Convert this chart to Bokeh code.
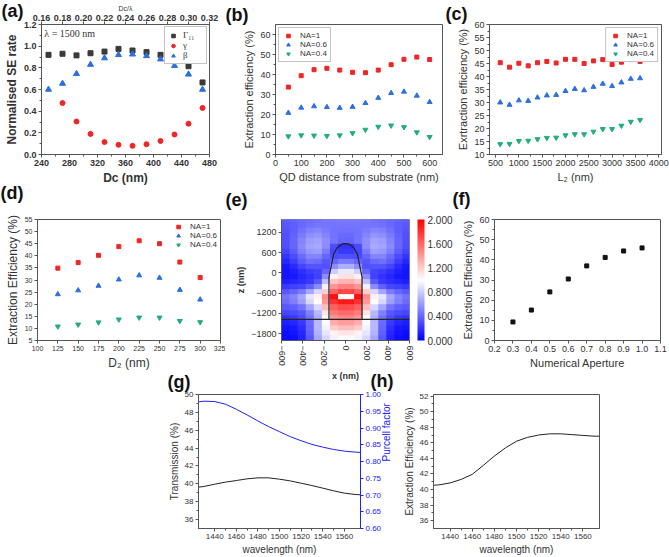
import math
import numpy as np
from bokeh.plotting import figure
from bokeh.layouts import column, row
from bokeh.models import (Range1d, LinearAxis, Label, LinearColorMapper, ColorBar,
                          FixedTicker, PrintfTickFormatter, Span, Spacer)
from bokeh.core.properties import value
from bokeh.embed import file_html
from bokeh.resources import INLINE

FONT = "Liberation Sans"
SERIF = "Liberation Serif"
INK = "#333333"
FRAME = "#555555"
RED = "#ee2626"
BLUE = "#2d6fe0"
GREEN = "#22ad78"
PBLUE = "#2020ff"

nan = float("nan")

# ---------------- (a) normalised spontaneous-emission rates vs pillar diameter
a_dc = [250, 270, 290, 310, 330, 350, 370, 390, 410, 430, 450, 470]
a_gamma11 = [0.92, 0.93, 0.915, 0.935, 0.95, 0.975, 0.96, 0.945, 0.92, 0.875, 0.815, 0.665]
a_gamma = [nan, 0.475, 0.305, 0.19, 0.115, 0.09, 0.08, 0.095, 0.125, 0.185, 0.285, 0.43]
a_beta = [0.60, 0.655, 0.745, 0.83, 0.89, 0.92, 0.925, 0.91, 0.88, 0.82, 0.74, 0.60]
a_wavelength = 1500

# ---------------- (b) extraction efficiency vs QD distance from substrate
b_dist = [50, 100, 150, 200, 250, 300, 350, 400, 450, 500, 550, 600]
b_na1 = [33.7, 39.4, 42.4, 43.1, 42.2, 41.1, 40.9, 42.2, 44.9, 47.6, 48.7, 47.5]
b_na06 = [20.8, 23.4, 24.1, 23.7, 23.3, 23.8, 25.7, 28.3, 30.7, 31.4, 29.4, 26.2]
b_na04 = [9.1, 9.6, 9.5, 9.3, 9.6, 10.7, 12.4, 13.9, 14.5, 13.7, 11.1, 8.8]

# ---------------- (c) extraction efficiency vs L2
c_l2 = [600, 800, 1000, 1200, 1400, 1600, 1800, 2000, 2200, 2400, 2600, 2800, 3000, 3200, 3400, 3600]
c_na1 = [45.3, 43.6, 45.1, 44.1, 45.3, 45.8, 45.2, 46.6, 46.6, 45.0, 46.0, 46.5, 44.6, 45.5, 46.5, 45.8]
c_na06 = [30.0, 29.1, 30.8, 30.6, 31.9, 32.7, 32.9, 34.4, 35.2, 34.7, 36.0, 37.2, 36.3, 37.7, 39.1, 39.3]
c_na04 = [14.0, 14.1, 15.2, 15.3, 15.9, 16.4, 16.5, 17.4, 17.8, 17.8, 18.8, 19.8, 19.8, 21.1, 22.6, 23.3]

# ---------------- (d) extraction efficiency vs D2
d_d2 = [125, 150, 175, 200, 225, 250, 275, 300]
d_na1 = [34.9, 37.2, 40.2, 43.8, 46.2, 45.0, 37.4, 31.0]
d_na06 = [24.1, 25.7, 27.6, 30.2, 31.9, 30.9, 25.9, 21.9]
d_na04 = [10.8, 11.6, 12.5, 13.7, 14.5, 14.5, 13.1, 12.6]

# ---------------- (e) field intensity map (half grid, x >= 0; mirrored about x = 0)
e_half_x = [37, 112, 187, 262, 337, 412, 487, 562]
e_rows_z = [1525, 1375, 1225, 1075, 925, 775, 625, 475, 325, 175, 25, -125, -275,
            -425, -575, -725, -875, -1025, -1175, -1325, -1475, -1625, -1775, -1925]
e_half_field = [
    [0.48, 0.48, 0.47, 0.45, 0.43, 0.41, 0.39, 0.37],
    [0.46, 0.46, 0.46, 0.46, 0.44, 0.41, 0.37, 0.35],
    [0.44, 0.45, 0.48, 0.52, 0.50, 0.44, 0.37, 0.33],
    [0.42, 0.45, 0.52, 0.58, 0.56, 0.48, 0.39, 0.32],
    [0.40, 0.46, 0.56, 0.64, 0.62, 0.52, 0.40, 0.32],
    [0.20, 0.30, 0.55, 0.66, 0.64, 0.54, 0.40, 0.31],
    [0.22, 0.28, 0.48, 0.62, 0.60, 0.50, 0.36, 0.27],
    [0.32, 0.30, 0.40, 0.52, 0.52, 0.42, 0.30, 0.21],
    [0.48, 0.40, 0.34, 0.42, 0.44, 0.36, 0.24, 0.15],
    [0.68, 0.55, 0.32, 0.33, 0.33, 0.27, 0.17, 0.10],
    [0.92, 0.80, 0.40, 0.27, 0.24, 0.18, 0.12, 0.08],
    [1.12, 1.05, 0.55, 0.25, 0.20, 0.15, 0.10, 0.08],
    [1.30, 1.22, 0.75, 0.35, 0.22, 0.18, 0.15, 0.12],
    [1.50, 1.42, 0.95, 0.55, 0.38, 0.28, 0.25, 0.22],
    [1.72, 1.62, 1.20, 0.85, 0.65, 0.48, 0.40, 0.35],
    [2.30, 1.95, 1.45, 1.05, 0.90, 0.65, 0.52, 0.45],
    [1.90, 1.80, 1.40, 1.00, 0.85, 0.62, 0.50, 0.42],
    [1.70, 1.62, 1.25, 0.85, 0.65, 0.45, 0.38, 0.35],
    [1.58, 1.52, 1.10, 0.72, 0.50, 0.35, 0.30, 0.28],
    [1.48, 1.42, 1.00, 0.68, 0.45, 0.30, 0.22, 0.20],
    [1.38, 1.32, 0.98, 0.72, 0.42, 0.22, 0.15, 0.12],
    [1.25, 1.20, 0.95, 0.72, 0.40, 0.18, 0.10, 0.08],
    [1.10, 1.05, 0.90, 0.70, 0.38, 0.15, 0.08, 0.05],
    [0.98, 0.95, 0.85, 0.65, 0.35, 0.14, 0.06, 0.04],
]
e_outline_x = [-155, -155, -112, -78, -31, 0, 31, 78, 112, 155, 155]
e_outline_z = [-1375, -126, 546, 739, 854, 863, 854, 739, 546, -126, -1375]
e_substrate_z = -1375

# ---------------- (f) extraction efficiency vs numerical aperture
f_na = [0.3, 0.4, 0.5, 0.6, 0.7, 0.8, 0.9, 1.0]
f_eff = [9.2, 15.1, 24.1, 30.5, 37.0, 41.2, 44.4, 45.9]

# ---------------- (g) transmission and Purcell factor vs wavelength
g_wl = [1425, 1430, 1440, 1450, 1460, 1470, 1480, 1490, 1500, 1510, 1520, 1530, 1540, 1550, 1560, 1570, 1575]
g_trans = [39.63, 39.70, 39.96, 40.19, 40.37, 40.56, 40.67, 40.67, 40.52, 40.33, 40.07, 39.81, 39.52, 39.22, 38.96, 38.81, 38.77]
g_purcell = [0.978, 0.980, 0.979, 0.971, 0.956, 0.939, 0.921, 0.904, 0.889, 0.874, 0.862, 0.851, 0.843, 0.836, 0.831, 0.828, 0.827]

# ---------------- (h) extraction efficiency vs wavelength
h_wl = [1425, 1430, 1440, 1450, 1460, 1470, 1480, 1490, 1500, 1510, 1520, 1530, 1540, 1550, 1560, 1570, 1575]
h_eff = [40.55, 40.6, 40.85, 41.3, 41.95, 43.1, 44.3, 45.35, 46.2, 46.7, 47.0, 47.15, 47.15, 47.05, 46.95, 46.85, 46.85]

# panel tags
tag_text = ["(a)", "(b)", "(c)", "(d)", "(e)", "(f)", "(g)", "(h)"]

PAGE_W, PAGE_H = 669, 557


def make_fig(w, h, xr, yr, left, right, top, bottom):
    p = figure(width=w, height=h, x_range=xr, y_range=yr, output_backend="svg",
               toolbar_location=None, min_border_left=left, min_border_right=right,
               min_border_top=top, min_border_bottom=bottom)
    p.grid.visible = False
    p.outline_line_color = FRAME
    p.outline_line_width = 1
    p.background_fill_color = "white"
    p.border_fill_color = "white"
    return p


def style_axis(ax, tick_px, label_px, bold=False, color=INK, line=FRAME):
    weight = "bold" if bold else "normal"
    ax.major_label_text_font = FONT
    ax.major_label_text_font_size = f"{tick_px}px"
    ax.major_label_text_font_style = weight
    ax.major_label_text_color = color
    ax.axis_label_text_font = FONT
    ax.axis_label_text_font_size = f"{label_px}px"
    ax.axis_label_text_font_style = weight
    ax.axis_label_text_color = color
    ax.axis_line_color = line
    ax.major_tick_line_color = line
    ax.minor_tick_line_color = line
    ax.major_tick_out = 3
    ax.major_tick_in = 0
    ax.minor_tick_out = 2
    ax.minor_tick_in = 0
    ax.major_label_standoff = 2
    ax.axis_label_standoff = 2


def ticks(start, stop, step, minor=True):
    n = int(round((stop - start) / step))
    major = [round(start + i * step, 6) for i in range(n + 1)]
    minors = [round(start + (i + 0.5) * step, 6) for i in range(n)] if minor else []
    return FixedTicker(ticks=major, minor_ticks=minors)


def style_legend(p, loc, border=True, size=8, font=FONT):
    lg = p.legend[0]
    lg.location = loc
    lg.label_text_font = font
    lg.label_text_font_size = f"{size}px"
    lg.label_text_color = INK
    lg.glyph_width = 12
    lg.glyph_height = 9
    lg.label_height = 9
    lg.spacing = 0
    lg.padding = 3
    lg.margin = 3
    lg.label_standoff = 6
    lg.border_line_color = "#8a8a8a" if border else None
    lg.background_fill_alpha = 1.0 if border else 0.0


# ======================= (a)
pa = make_fig(225, 187, (240, 480), (0, 1.2), 41, 16, 21, 31)
pa.extra_x_ranges = {"ratio": Range1d(240 / a_wavelength, 480 / a_wavelength)}
top_ax = LinearAxis(x_range_name="ratio", axis_label="Dc/λ")
pa.add_layout(top_ax, "above")
pa.below[0].axis_label = "Dc (nm)"
pa.yaxis.axis_label = "Normalised SE rate"
for ax in pa.below + pa.left:
    style_axis(ax, 9, 12, bold=True)
style_axis(top_ax, 9, 7, bold=True)
top_ax.axis_label_text_font_style = "normal"
top_ax.axis_label_standoff = 0
top_ax.major_label_standoff = 1
top_ax.ticker = ticks(0.16, 0.32, 0.02, minor=False)
top_ax.formatter = PrintfTickFormatter(format="%.2f")
pa.below[0].ticker = ticks(240, 480, 40)
pa.left[0].ticker = ticks(0, 1.2, 0.2)
pa.left[0].formatter = PrintfTickFormatter(format="%.1f")
pa.scatter(a_dc, a_gamma11, marker="square", size=5, color="#3a3a3a", legend_label="Γ₁₁")
pa.scatter(a_dc, a_gamma, marker="circle", size=5, color=RED, legend_label="γ")
pa.scatter(a_dc, a_beta, marker="triangle", size=6, color=BLUE, legend_label="β")
style_legend(pa, "top_right", size=9, font=SERIF)
pa.legend[0].margin = 2
pa.legend[0].glyph_width = 10
pa.legend[0].label_standoff = 5
pa.add_layout(Label(x=244, y=1.12, text=f"λ = {a_wavelength} nm", text_font=SERIF,
                    text_font_size="10px", text_color=INK, text_baseline="middle"))

# ======================= (b)
pb = make_fig(220, 187, (0, 650), (0, 65), 50, 3, 22, 31)
pb.xaxis.axis_label = "QD distance from substrate (nm)"
pb.yaxis.axis_label = "Extraction efficiency (%)"
for ax in pb.below + pb.left:
    style_axis(ax, 9, 11)
pb.xaxis.ticker = ticks(0, 600, 100)
pb.yaxis.ticker = ticks(0, 60, 10)
pb.scatter(b_dist, b_na1, marker="square", size=4, color=RED, legend_label="NA=1")
pb.scatter(b_dist, b_na06, marker="triangle", size=5, color=BLUE, legend_label="NA=0.6")
pb.scatter(b_dist, b_na04, marker="inverted_triangle", size=5, color=GREEN, legend_label="NA=0.4")
style_legend(pb, "top_left")

# ======================= (c)
pc = make_fig(224, 187, (370, 4060), (10, 60), 44, 8, 24, 28)
pc.xaxis.axis_label = "L₂ (nm)"
pc.yaxis.axis_label = "Exrtraction efficiency (%)"
for ax in pc.below + pc.left:
    style_axis(ax, 9, 11)
pc.xaxis.ticker = ticks(500, 4000, 500)
pc.yaxis.ticker = ticks(10, 60, 5)
pc.scatter(c_l2, c_na1, marker="square", size=4, color=RED, legend_label="NA=1")
pc.scatter(c_l2, c_na06, marker="triangle", size=5, color=BLUE, legend_label="NA=0.6")
pc.scatter(c_l2, c_na04, marker="inverted_triangle", size=5, color=GREEN, legend_label="NA=0.4")
style_legend(pc, "top_right")

# ======================= (d)
pd_ = make_fig(225, 198, (100, 325), (5, 55), 37, 5, 18, 35)
pd_.xaxis.axis_label = "D₂ (nm)"
pd_.yaxis.axis_label = "Extraction Efficiency (%)"
for ax in pd_.below + pd_.left:
    style_axis(ax, 7, 12)
pd_.xaxis.ticker = ticks(100, 325, 25, minor=False)
pd_.yaxis.ticker = ticks(5, 55, 5, minor=False)
pd_.scatter(d_d2, d_na1, marker="square", size=4, color=RED, legend_label="NA=1")
pd_.scatter(d_d2, d_na06, marker="triangle", size=5, color=BLUE, legend_label="NA=0.6")
pd_.scatter(d_d2, d_na04, marker="inverted_triangle", size=5, color=GREEN, legend_label="NA=0.4")
style_legend(pd_, "top_right", border=False)

# ======================= (e)
palette = []
for i in range(256):
    v = 2.0 * i / 255
    if v <= 1.0:
        c = int(round(255 * v))
        palette.append("#%02x%02x%02x" % (c, c, 255))
    else:
        c = int(round(255 * (2.0 - v)))
        palette.append("#%02x%02x%02x" % (255, c, c))
mapper = LinearColorMapper(palette=palette, low=0.0, high=2.0, high_color="white")

full_rows = [list(r[::-1]) + list(r) for r in e_half_field]
field = np.array(full_rows[::-1], dtype=float)
row_step = e_rows_z[0] - e_rows_z[1]
z_bottom = e_rows_z[-1] - row_step / 2
z_span = row_step * len(e_rows_z)
x_step = e_half_x[1] - e_half_x[0]
x_span = 2 * (e_half_x[-1] + x_step / 2)

pe = make_fig(230, 198, (-600, 600), (-2000, 1575), 56, 46, 32, 42)
pe.image(image=[field], x=-x_span / 2, y=z_bottom, dw=x_span, dh=z_span, color_mapper=mapper)
pe.line(e_outline_x, e_outline_z, line_color="#222222", line_width=1.2)
pe.add_layout(Span(location=e_substrate_z, dimension="width", line_color="#222222", line_width=1.2))
pe.xaxis.axis_label = "x (nm)"
pe.yaxis.axis_label = "z (nm)"
for ax in pe.below + pe.left:
    style_axis(ax, 9, 9)
    ax.axis_label_text_font_style = "bold"
pe.xaxis.ticker = ticks(-600, 600, 200, minor=False)
pe.yaxis.ticker = ticks(-1800, 1200, 600, minor=False)
pe.xaxis.major_label_orientation = -math.pi / 2
pe.outline_line_color = "#8888aa"
# invisible spacer axis keeps a small gap between the map and its colour bar
gap_axis = LinearAxis(ticker=FixedTicker(ticks=[0], minor_ticks=[]), axis_label=None,
                      axis_line_color=None, major_tick_line_color=None,
                      minor_tick_line_color=None, major_tick_out=8, major_tick_in=0,
                      minor_tick_out=0, minor_tick_in=0, major_label_standoff=0,
                      major_label_text_font_size="1px", major_label_text_alpha=0.0)
pe.add_layout(gap_axis, "right")
cbar = ColorBar(color_mapper=mapper, ticker=FixedTicker(ticks=[0, 0.4, 0.8, 1.2, 1.6, 2.0]),
                formatter=PrintfTickFormatter(format="%.3f"), width=7, padding=0, margin=0,
                major_tick_line_color=None, bar_line_color=None, label_standoff=3,
                major_label_text_font=FONT, major_label_text_font_size="10px",
                major_label_text_color=INK)
pe.add_layout(cbar, "right")

# ======================= (f)
pf = make_fig(214, 198, (0.2, 1.1), (0, 60), 39, 9, 18, 45)
pf.xaxis.axis_label = "Numerical Aperture"
pf.yaxis.axis_label = "Extraction Efficiency (%)"
for ax in pf.below + pf.left:
    style_axis(ax, 9, 11)
pf.xaxis.ticker = ticks(0.2, 1.1, 0.1, minor=False)
pf.xaxis.formatter = PrintfTickFormatter(format="%.1f")
pf.yaxis.ticker = ticks(0, 60, 10)
pf.scatter(f_na, f_eff, marker="square", size=4, color="#111111")

# ======================= (g)
pg = make_fig(250, 172, (1425, 1575), (35, 50), 48, 36, 9, 28)
pg.extra_y_ranges = {"purcell": Range1d(0.6, 1.0)}
right_ax = LinearAxis(y_range_name="purcell", axis_label="Purcell factor")
pg.add_layout(right_ax, "right")
pg.xaxis.axis_label = "wavelength (nm)"
pg.left[0].axis_label = "Transmission (%)"
for ax in pg.below + pg.left:
    style_axis(ax, 8, 10)
style_axis(right_ax, 8, 10, color=PBLUE, line=PBLUE)
if "axis_label_orientation" in right_ax.properties():
    right_ax.axis_label_orientation = math.pi / 2
pg.xaxis.ticker = ticks(1440, 1560, 20)
pg.left[0].ticker = ticks(36, 50, 2)
right_ax.ticker = ticks(0.6, 1.0, 0.05, minor=False)
right_ax.formatter = PrintfTickFormatter(format="%.2f")
pg.line(g_wl, g_trans, line_color="#222222", line_width=1)
pg.line(g_wl, g_purcell, y_range_name="purcell", line_color=PBLUE, line_width=1)

# ======================= (h)
ph = make_fig(269, 172, (1425, 1575), (35, 52.2), 32, 70, 9, 29)
ph.xaxis.axis_label = "wavelength (nm)"
ph.yaxis.axis_label = "Extraction Efficiency (%)"
for ax in ph.below + ph.left:
    style_axis(ax, 8, 10)
ph.xaxis.ticker = ticks(1440, 1560, 20)
ph.yaxis.ticker = ticks(36, 52, 2)
ph.line(h_wl, h_eff, line_color="#222222", line_width=1)

# ======================= transparent page-size layer carrying the panel tags
tags = figure(width=PAGE_W, height=PAGE_H, x_range=(0, PAGE_W), y_range=(PAGE_H, 0),
              output_backend="svg", toolbar_location=None, x_axis_type=None, y_axis_type=None,
              min_border=0, min_border_left=0, min_border_right=0, min_border_top=0,
              min_border_bottom=0)
tags.grid.visible = False
tags.outline_line_color = None
tags.background_fill_color = None
tags.border_fill_color = None
tag_x = [1, 225, 445, 0, 225, 452, 167, 370]
tag_y = [0, 4, 3, 182, 189, 188, 371, 370]
tags.text(x=tag_x, y=tag_y, text=tag_text, text_font=value(FONT), text_font_size="18px",
          text_font_style="bold", text_color="#111111", text_baseline="top", text_align="left")
tags.margin = (-PAGE_H, 0, 0, 0)

layout = column(
    row(pa, pb, pc),
    row(pd_, pe, pf),
    row(Spacer(width=150, height=172), pg, ph),
    tags,
)

open("out.html", "w").write(file_html(layout, INLINE))
